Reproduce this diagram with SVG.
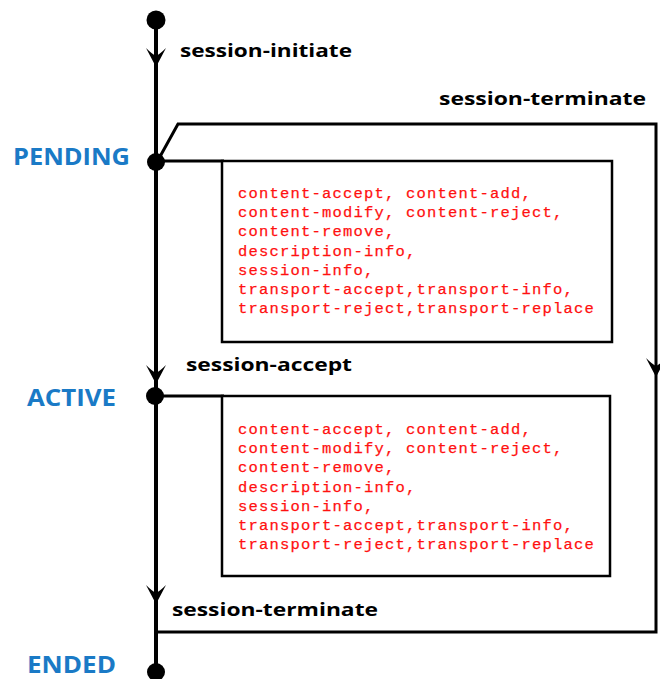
<svg xmlns="http://www.w3.org/2000/svg" width="660" height="679" viewBox="0 0 660 679">
  <style>
    .state { font-family: "Open Sans", "Liberation Sans", sans-serif; font-weight: 700; font-size: 24px; fill: #1a7ac6; }
    .event { font-family: "Open Sans", "Liberation Sans", sans-serif; font-weight: 700; font-size: 18px; fill: #000; }
    .msgs { font-family: "Liberation Mono", "DejaVu Sans Mono", monospace; font-size: 15.5px; letter-spacing: 1.2px; fill: #ff1010; stroke: #ff1010; stroke-width: 0.25; }
    .flow { fill: none; stroke: #000; stroke-width: 4; }
    .loop { fill: none; stroke: #000; stroke-width: 3; }
    .box { fill: #fff; stroke: #000; stroke-width: 2.5; }
    .dot { fill: #000; }
    .head { fill: #000; }
  </style>
  <defs>
    <!-- barbed arrowhead, tip at origin, pointing down -->
    <path id="arrowDown" d="M0,0 L-10,-19 Q-4,-13 0,-11 Q4,-13 10,-19 Z"/>
  </defs>

  <!-- connectors -->
  <g id="connectors">
    <!-- main life line -->
    <line class="flow" x1="156" y1="20" x2="156" y2="671"/>
    <!-- session-terminate loop from PENDING round to ENDED -->
    <path class="loop" d="M157,162 L178,124 L656,124 L656,632 L157,632"/>
    <!-- arrowheads -->
    <use href="#arrowDown" class="head" x="156" y="67"/>
    <use href="#arrowDown" class="head" x="156" y="384"/>
    <use href="#arrowDown" class="head" x="156" y="604"/>
    <use href="#arrowDown" class="head" x="656" y="377"/>
    <!-- self transitions -->
    <line class="loop" x1="157" y1="161" x2="224" y2="161"/>
    <line class="loop" x1="157" y1="396" x2="224" y2="396"/>
  </g>

  <!-- states -->
  <g id="start">
    <circle class="dot" cx="156" cy="20" r="9.5"/>
  </g>
  <g id="pending">
    <circle class="dot" cx="156" cy="162" r="9"/>
    <text class="state" x="13" y="165" textLength="117" lengthAdjust="spacingAndGlyphs">PENDING</text>
  </g>
  <g id="active">
    <circle class="dot" cx="155" cy="396" r="9"/>
    <text class="state" x="27" y="406" textLength="89" lengthAdjust="spacingAndGlyphs">ACTIVE</text>
  </g>
  <g id="ended">
    <circle class="dot" cx="156" cy="672" r="9"/>
    <text class="state" x="27" y="673" textLength="89" lengthAdjust="spacingAndGlyphs">ENDED</text>
  </g>

  <!-- event labels -->
  <g id="label-initiate">
    <text class="event" x="180" y="57" textLength="172" lengthAdjust="spacingAndGlyphs">session-initiate</text>
  </g>
  <g id="label-terminate-pending">
    <text class="event" x="439" y="105" textLength="207" lengthAdjust="spacingAndGlyphs">session-terminate</text>
  </g>
  <g id="label-accept">
    <text class="event" x="186" y="371" textLength="166" lengthAdjust="spacingAndGlyphs">session-accept</text>
  </g>
  <g id="label-terminate-active">
    <text class="event" x="172" y="616" textLength="206" lengthAdjust="spacingAndGlyphs">session-terminate</text>
  </g>

  <!-- actions allowed while PENDING -->
  <g id="pending-actions">
    <rect class="box" x="222" y="161" width="390" height="181"/>
    <text class="msgs" x="238" y="198">content-accept, content-add,</text>
    <text class="msgs" x="238" y="217.2">content-modify, content-reject,</text>
    <text class="msgs" x="238" y="236.4">content-remove,</text>
    <text class="msgs" x="238" y="255.6">description-info,</text>
    <text class="msgs" x="238" y="274.8">session-info,</text>
    <text class="msgs" x="238" y="294">transport-accept,transport-info,</text>
    <text class="msgs" x="238" y="313.2">transport-reject,transport-replace</text>
  </g>

  <!-- actions allowed while ACTIVE -->
  <g id="active-actions">
    <rect class="box" x="222" y="396" width="388" height="180"/>
    <text class="msgs" x="238" y="434">content-accept, content-add,</text>
    <text class="msgs" x="238" y="453.2">content-modify, content-reject,</text>
    <text class="msgs" x="238" y="472.4">content-remove,</text>
    <text class="msgs" x="238" y="491.6">description-info,</text>
    <text class="msgs" x="238" y="510.8">session-info,</text>
    <text class="msgs" x="238" y="530">transport-accept,transport-info,</text>
    <text class="msgs" x="238" y="549.2">transport-reject,transport-replace</text>
  </g>
</svg>
